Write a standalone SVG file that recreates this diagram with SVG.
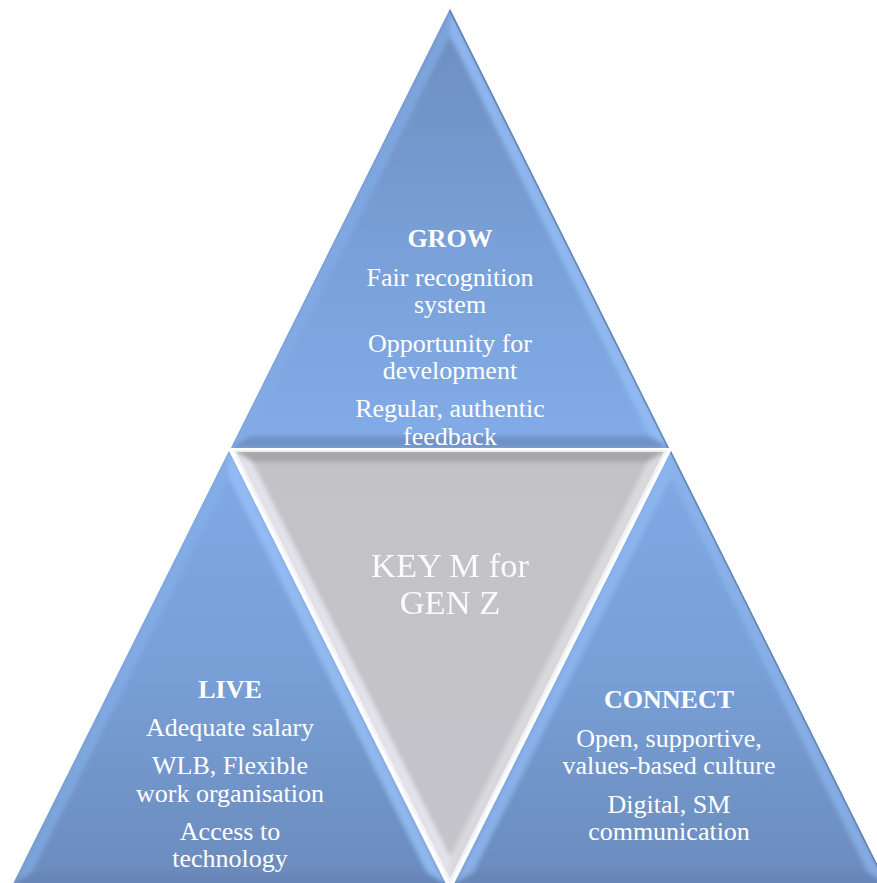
<svg xmlns="http://www.w3.org/2000/svg" width="877" height="883" viewBox="0 0 877 883">
  <defs>
    <style>
      .lbl { font-family: "Liberation Serif", "Times New Roman", serif; fill: #ffffff; text-anchor: middle; font-size: 26px; }
      .head { font-weight: bold; }
      .core { font-size: 34.5px; fill: #fbfbfd; }
    </style>
    <linearGradient id="blueDown" x1="0" y1="0" x2="0" y2="1">
      <stop offset="0" stop-color="#6d8dbd"/>
      <stop offset="0.55" stop-color="#79a0d8"/>
      <stop offset="1" stop-color="#82ace8"/>
    </linearGradient>
    <linearGradient id="blueUp" x1="0" y1="0" x2="0" y2="1">
      <stop offset="0" stop-color="#80aae6"/>
      <stop offset="0.5" stop-color="#78a0d7"/>
      <stop offset="1" stop-color="#6b8bbc"/>
    </linearGradient>
    <linearGradient id="grey" x1="0" y1="0" x2="0" y2="1">
      <stop offset="0" stop-color="#c2c2c7"/>
      <stop offset="1" stop-color="#c5c4ca"/>
    </linearGradient>
    <filter id="soft" x="-5%" y="-5%" width="110%" height="110%">
      <feGaussianBlur stdDeviation="2.2"/>
    </filter>
    <clipPath id="clipGrow"><polygon points="450,9 231,448 669,448"/></clipPath>
    <clipPath id="clipLive"><polygon points="229,451 13,884 446,884"/></clipPath>
    <clipPath id="clipConnect"><polygon points="671,451 454,884 887,884"/></clipPath>
    <clipPath id="clipCore"><polygon points="233,450 667,450 450,883"/></clipPath>
  </defs>

  <rect width="877" height="883" fill="#ffffff"/>

  <!-- upper triangle -->
  <g id="grow">
    <polygon points="450,9 231,448 669,448" fill="url(#blueDown)"/>
    <g clip-path="url(#clipGrow)">
      <g filter="url(#soft)">
        <polygon points="450,9 231,448 250.4,436 450,35.9" fill="#82abe4" opacity="0.7"/>
        <polygon points="450,9 669,448 649.6,436 450,35.9" fill="#93bcf3" opacity="0.85"/>
        <polygon points="231,448 669,448 649.6,436 250.4,436" fill="#6f8fc3" opacity="0.9"/>
      </g>
      <line x1="450" y1="9" x2="669" y2="448" stroke="#5f7aa6" stroke-width="3" opacity="0.8"/>
      <line x1="450" y1="9" x2="231" y2="448" stroke="#7a9cd0" stroke-width="2" opacity="0.6"/>
    </g>
    <text class="lbl head" x="450" y="247">GROW</text>
    <text class="lbl" x="450" y="286">Fair recognition</text>
    <text class="lbl" x="450" y="313">system</text>
    <text class="lbl" x="450" y="352">Opportunity for</text>
    <text class="lbl" x="450" y="379">development</text>
    <text class="lbl" x="450" y="417">Regular, authentic</text>
    <text class="lbl" x="450" y="445">feedback</text>
  </g>

  <!-- lower left triangle -->
  <g id="live">
    <polygon points="229,451 13,884 446,884" fill="url(#blueUp)"/>
    <g clip-path="url(#clipLive)">
      <g filter="url(#soft)">
        <polygon points="229,451 13,884 32.4,872 229,477.8" fill="#86b0ea" opacity="0.6"/>
        <polygon points="229,451 446,884 426.6,872 229,477.8" fill="#95bef5" opacity="0.85"/>
        <polygon points="13,884 446,884 426.6,872 32.4,872" fill="#6686b6" opacity="0.8"/>
      </g>
      <line x1="229" y1="451" x2="13" y2="884" stroke="#7ea4da" stroke-width="2" opacity="0.6"/>
    </g>
    <text class="lbl head" x="230" y="698">LIVE</text>
    <text class="lbl" x="230" y="736">Adequate salary</text>
    <text class="lbl" x="230" y="774">WLB, Flexible</text>
    <text class="lbl" x="230" y="802">work organisation</text>
    <text class="lbl" x="230" y="840">Access to</text>
    <text class="lbl" x="230" y="867">technology</text>
  </g>

  <!-- lower right triangle -->
  <g id="connect">
    <polygon points="671,451 454,884 887,884" fill="url(#blueUp)"/>
    <g clip-path="url(#clipConnect)">
      <g filter="url(#soft)">
        <polygon points="671,451 454,884 473.4,872 671,477.8" fill="#8fb8f0" opacity="0.8"/>
        <polygon points="671,451 887,884 867.6,872 671,477.8" fill="#8cb4ec" opacity="0.75"/>
        <polygon points="454,884 887,884 867.6,872 473.4,872" fill="#6686b6" opacity="0.8"/>
      </g>
      <line x1="671" y1="451" x2="887" y2="884" stroke="#5f7aa6" stroke-width="3" opacity="0.8"/>
    </g>
    <text class="lbl head" x="669" y="708">CONNECT</text>
    <text class="lbl" x="669" y="747">Open, supportive,</text>
    <text class="lbl" x="669" y="774">values-based culture</text>
    <text class="lbl" x="669" y="813">Digital, SM</text>
    <text class="lbl" x="669" y="840">communication</text>
  </g>

  <!-- centre, inverted triangle -->
  <g id="core">
    <polygon points="233,450 667,450 450,883" fill="url(#grey)"/>
    <g clip-path="url(#clipCore)">
      <g filter="url(#soft)">
        <polygon points="233,450 667,450 647.6,462 252.4,462" fill="#a7a7ab"/>
        <polygon points="233,450 450,883 450,856.2 252.4,462" fill="#e6e6ee" opacity="0.9"/>
        <polygon points="667,450 450,883 450,856.2 647.6,462" fill="#dcdce2" opacity="0.85"/>
      </g>
      <line x1="233" y1="450" x2="667" y2="450" stroke="#eceef2" stroke-width="4"/>
      <line x1="233" y1="450" x2="450" y2="883" stroke="#f4f5f8" stroke-width="4"/>
      <line x1="667" y1="450" x2="450" y2="883" stroke="#f4f5f8" stroke-width="4"/>
    </g>
    <text class="lbl core" x="450" y="577">KEY M for</text>
    <text class="lbl core" x="450" y="614">GEN Z</text>
  </g>
</svg>
